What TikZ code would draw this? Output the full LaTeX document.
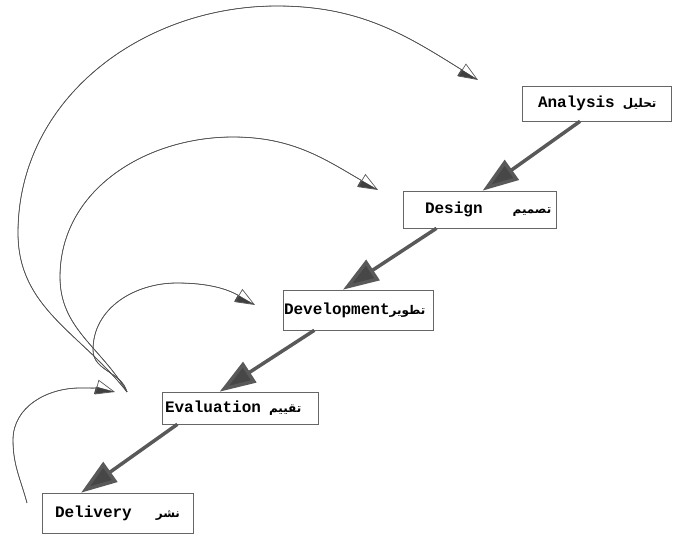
\documentclass[tikz,border=0pt]{standalone}
\usepackage{fontspec}
\setmonofont{Liberation Mono}
\newfontfamily\arabicfont[Script=Arabic]{DejaVu Sans}
\TeXXeTstate=1
\usetikzlibrary{arrows.meta,calc}
\newcommand\AR[1]{{\fontsize{12}{14}\selectfont\arabicfont\beginR #1\endR}}
\begin{document}
\begin{tikzpicture}[x=1pt,y=1pt,
  stage/.style={draw=black!60, line width=0.6pt, fill=white, inner xsep=0pt, inner ysep=0pt, align=left,
    font=\fontsize{16}{18}\selectfont\ttfamily\bfseries},
  flow/.style={line width=3.5pt, draw=black!65, -{Triangle[length=36pt,width=24pt,fill=black!72]}},
  loop/.style={line width=0.7pt, draw=black!65,
    preaction={draw, -{Triangle[harpoon,swap,length=19pt,width=15pt,fill=black!75,color=black!75]}},
    -{Triangle[open,length=19pt,width=15pt]}}]
\useasboundingbox (0,0) rectangle (674,537);

\node[stage, text width=149pt, minimum height=35pt] (an) at (596.5,433.5) {\hspace*{16pt}Analysis\hspace{8pt}\AR{تحليل}};
\node[stage, text width=153pt, minimum height=37pt] (de) at (479.5,327.5) {\hspace*{22pt}Design\hspace{30pt}\AR{تصميم}};
\node[stage, text width=150pt, minimum height=40pt] (dv) at (358,227) {\hspace*{1pt}Development\AR{تطوير}};
\node[stage, text width=156pt, minimum height=32pt] (ev) at (240,129) {\hspace*{3pt}Evaluation\hspace{8pt}\AR{تقييم}};
\node[stage, text width=151pt, minimum height=40pt] (dl) at (117.5,24) {\hspace*{13pt}Delivery\hspace{24pt}\AR{نشر}};

\draw[flow] ($(an.south west)!0.39!(an.south east)$) -- ($(de.north west)!0.52!(de.north east)$);
\draw[flow] ($(de.south west)!0.22!(de.south east)$) -- ($(dv.north west)!0.40!(dv.north east)$);
\draw[flow] ($(dv.south west)!0.21!(dv.south east)$) -- ($(ev.north west)!0.37!(ev.north east)$);
\draw[flow] ($(ev.south west)!0.10!(ev.south east)$) -- ($(dl.north west)!0.26!(dl.north east)$);

\coordinate (src) at (127,145);
\coordinate (t1) at (478,457);
\coordinate (t2) at (378,347);
\coordinate (t3) at (255,232);
\coordinate (s4) at (27,34);
\coordinate (t4) at (115,145);

\draw[loop] (src) to[out=128,in=270] (18,304) to[out=90,in=180] (277,531) to[out=0,in=148] (t1);
\draw[loop] (src) to[out=120,in=270] (60,260) to[out=90,in=180] (233,400) to[out=0,in=150] (t2);
\draw[loop] (src) to[out=105,in=270] (93,187) to[out=90,in=180] (177,254) to[out=0,in=150] (t3);
\draw[loop] (s4) to[out=105,in=270] (13,97) to[out=90,in=180] (80,149) to[out=0,in=165] (t4);
\end{tikzpicture}
\end{document}
